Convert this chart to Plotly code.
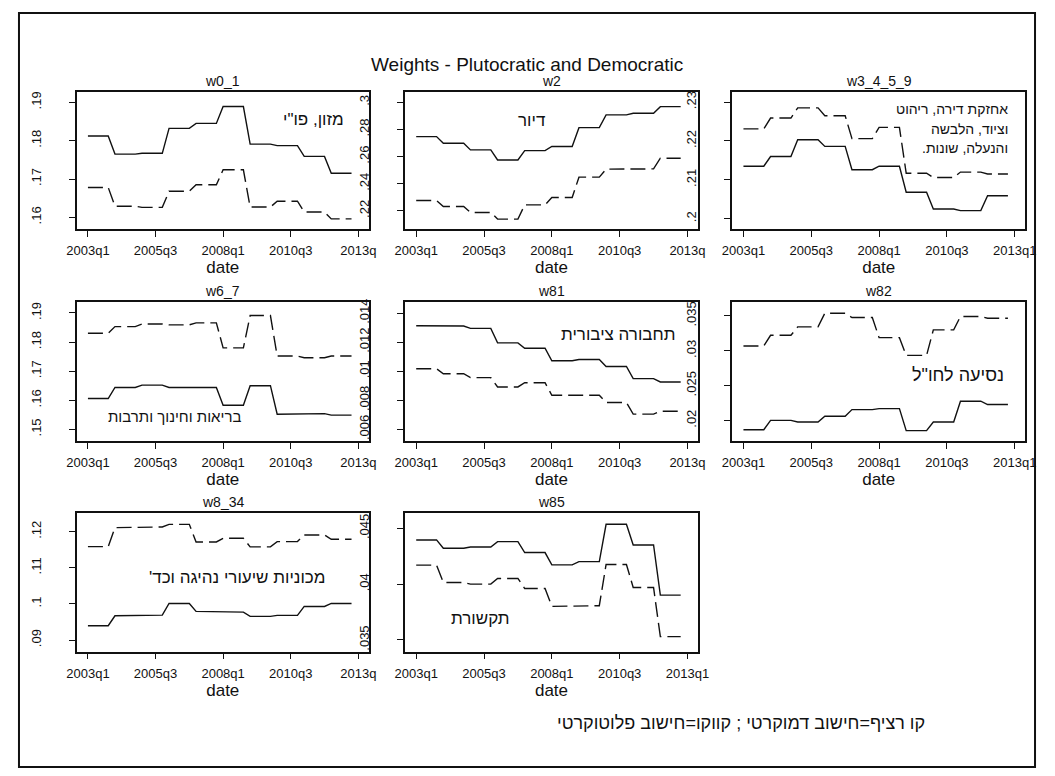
import plotly.graph_objects as go

# The page body has an 8px margin, so the figure is sized to fit inside the window
OFF = 8
W, H = 1055 - 2 * OFF, 776 - 2 * OFF

years = [2003, 2004, 2005, 2006, 2007, 2008, 2009, 2010, 2011, 2012]
quarter_ticks = [0, 10, 20, 30, 40]
quarter_labels = ["2003q1", "2005q3", "2008q1", "2010q3", "2013q1"]

# annual weights (each year held for its 4 quarters); solid = democratic, dashed = plutocratic
w0_1_dem = [.1812, .1765, .1767, .1832, .1845, .1889, .1791, .1787, .1759, .1715]
w0_1_plu = [.1678, .1629, .1626, .1668, .1685, .1724, .1627, .1642, .1614, .1596]
w2_dem = [.2747, .2698, .2649, .2575, .2644, .2674, .2813, .2907, .2919, .2968]
w2_plu = [.2276, .2232, .2188, .2139, .2244, .2298, .2448, .2507, .2509, .2588]
w3_dem = [.2135, .2160, .2203, .2186, .2126, .2135, .2068, .2025, .2021, .2059]
w3_plu = [.2231, .2259, .2285, .2265, .2206, .2235, .2117, .2106, .2120, .2115]
w6_7_dem = [.1606, .1644, .1652, .1644, .1644, .1583, .1650, .1552, .1554, .1549]
w6_7_plu = [.1830, .1853, .1862, .1859, .1866, .1780, .1891, .1752, .1746, .1752]
w81_dem = [.01313, .01311, .01295, .01195, .01158, .01072, .01081, .01033, .00949, .00926]
w81_plu = [.01017, .00983, .00956, .00892, .00921, .00835, .00835, .00785, .00705, .00725]
w82_dem = [.0187, .02004, .0198, .02062, .02158, .02172, .01856, .0198, .02278, .0223]
w82_plu = [.03069, .03222, .03342, .03538, .03476, .03188, .02934, .03299, .0349, .03466]
w8_34_dem = [.09396, .09672, .0969, .10013, .09792, .09774, .09654, .09682, .0993, .10013]
w8_34_plu = [.11586, .1211, .12129, .12202, .11715, .11816, .11577, .11724, .11908, .11788]
w85_dem = [.04396, .04321, .04333, .04381, .04283, .04173, .04202, .04536, .04351, .03902]
w85_plu = [.0417, .04015, .0400, .04051, .03961, .03801, .03807, .04176, .0397, .0353]

panel_names = ["w0_1", "w2", "w3_4_5_9", "w6_7", "w81", "w82", "w8_34", "w85"]
dem_series = [w0_1_dem, w2_dem, w3_dem, w6_7_dem, w81_dem, w82_dem, w8_34_dem, w85_dem]
plu_series = [w0_1_plu, w2_plu, w3_plu, w6_7_plu, w81_plu, w82_plu, w8_34_plu, w85_plu]

y_ranges = [[.157, .1928], [.2067, .3079], [.1974, .2327], [.1461, .1936],
            [.00522, .01473], [.01712, .03692], [.0868, .12506], [.03396, .04634]]
y_tickvals = [[.16, .17, .18, .19], [.22, .24, .26, .28, .3], [.2, .21, .22, .23],
              [.15, .16, .17, .18, .19], [.006, .008, .01, .012, .014],
              [.02, .025, .03, .035], [.09, .1, .11, .12], [.035, .04, .045]]
y_ticktext = [[".16", ".17", ".18", ".19"], [".22", ".24", ".26", ".28", ".3"],
              [".2", ".21", ".22", ".23"], [".15", ".16", ".17", ".18", ".19"],
              [".006", ".008", ".01", ".012", ".014"], [".02", ".025", ".03", ".035"],
              [".09", ".1", ".11", ".12"], [".035", ".04", ".045"]]

labels_he = ["מזון, פו\"י", "דיור", None, "בריאות וחינוך ותרבות", "תחבורה ציבורית",
             "נסיעה לחו\"ל", "מכוניות שיעורי נהיגה וכד'", "תקשורת"]
w3_lines = ["אחזקת דירה, ריהוט", "וציוד, הלבשה", "והנעלה, שונות."]
title_text = "Weights - Plutocratic and Democratic"
footer_text = "קו רציף=חישוב דמוקרטי ; קווקו=חישוב פלוטוקרטי"

RLM = "\u200f"


def px(x):
    return (x - OFF) / W


def py(y):
    return 1 - (y - OFF) / H


col_x = [(68, 366), (403, 702), (737, 1036)]
row_y = [(88, 226), (300, 439), (512, 651)]
# label positions (x, center y, anchor, font size) in window pixels
label_pos = [(343, 116, "right", 17), (532, 117, "center", 17), None,
             (168, 415, "center", 15), (620, 332, "center", 17), (967, 373, "center", 18),
             (232, 576, "center", 17), (480, 618, "center", 17)]

font_fam = "Liberation Sans, Arial, sans-serif"
fig = go.Figure()
annotations = []
ink = "#111111"

for i, name in enumerate(panel_names):
    r, c = divmod(i, 3)
    x0, x1 = col_x[c]
    y0, y1 = row_y[r]
    ax = "" if i == 0 else str(i + 1)
    xq = [q for q in range(len(years) * 4)]
    dem_q = [v for v in dem_series[i] for _ in range(4)]
    plu_q = [v for v in plu_series[i] for _ in range(4)]
    fig.add_trace(go.Scatter(x=xq, y=dem_q, mode="lines", xaxis="x" + ax, yaxis="y" + ax,
                             line=dict(color=ink, width=1.4), showlegend=False,
                             hoverinfo="skip"))
    fig.add_trace(go.Scatter(x=xq, y=plu_q, mode="lines", xaxis="x" + ax, yaxis="y" + ax,
                             line=dict(color=ink, width=1.4, dash="15px,6px"),
                             showlegend=False, hoverinfo="skip"))
    # the panel to the right hides the end of the last tick label
    has_right_neighbor = (c < 2) and (i + 1 < len(panel_names))
    xt = list(quarter_labels)
    if has_right_neighbor:
        xt[-1] = "2013q"
    fig.layout["xaxis" + ax] = dict(
        domain=[px(x0), px(x1)], range=[-1.65, 41.55], anchor="y" + ax,
        tickvals=quarter_ticks, ticktext=xt, ticks="outside", ticklen=6, tickwidth=1.2,
        tickcolor=ink, showline=True, mirror=True, linecolor=ink, linewidth=1.6,
        showgrid=False, zeroline=False, ticklabelstandoff=3,
        tickfont=dict(size=13, color=ink, family=font_fam),
        title=dict(text="date", font=dict(size=17, color=ink, family=font_fam), standoff=0),
        fixedrange=True)
    fig.layout["yaxis" + ax] = dict(
        domain=[py(y1), py(y0)], range=y_ranges[i], anchor="x" + ax,
        tickvals=y_tickvals[i], ticktext=y_ticktext[i], tickangle=-90,
        ticks="outside", ticklen=6, tickwidth=1.2, tickcolor=ink,
        showline=True, mirror=True, linecolor=ink, linewidth=1.6,
        showgrid=False, zeroline=False, ticklabelstandoff=23,
        tickfont=dict(size=13, color=ink, family=font_fam), fixedrange=True)
    annotations.append(dict(text=name, x=px((x0 + x1) / 2), y=py(y0 - 1), xref="paper",
                            yref="paper", xanchor="center", yanchor="bottom", showarrow=False,
                            font=dict(size=14, color=ink, family=font_fam)))
    if labels_he[i] is not None:
        lx, ly, anc, fs = label_pos[i]
        annotations.append(dict(text=RLM + labels_he[i] + RLM, x=px(lx), y=py(ly),
                                xref="paper", yref="paper", xanchor=anc, yanchor="middle",
                                showarrow=False,
                                font=dict(size=fs, color=ink, family=font_fam)))

for line, yy in zip(w3_lines, [106, 126, 145]):
    annotations.append(dict(text=RLM + line + RLM, x=px(1020), y=py(yy), xref="paper",
                            yref="paper", xanchor="right", yanchor="middle", showarrow=False,
                            font=dict(size=14, color=ink, family=font_fam)))

annotations.append(dict(text=title_text, x=px(527), y=py(61), xref="paper", yref="paper",
                        xanchor="center", yanchor="middle", showarrow=False,
                        font=dict(size=19, color=ink, family=font_fam)))
annotations.append(dict(text=RLM + footer_text + RLM, x=px(746), y=py(723), xref="paper",
                        yref="paper", xanchor="center", yanchor="middle", showarrow=False,
                        font=dict(size=18, color=ink, family=font_fam)))

fig.update_layout(
    width=W, height=H, margin=dict(l=0, r=0, t=0, b=0),
    paper_bgcolor="white", plot_bgcolor="white", annotations=annotations,
    shapes=[dict(type="rect", xref="paper", yref="paper", x0=px(9), x1=px(1046),
                 y0=py(767), y1=py(9), line=dict(color=ink, width=2))],
)

fig.write_html("out.html")
